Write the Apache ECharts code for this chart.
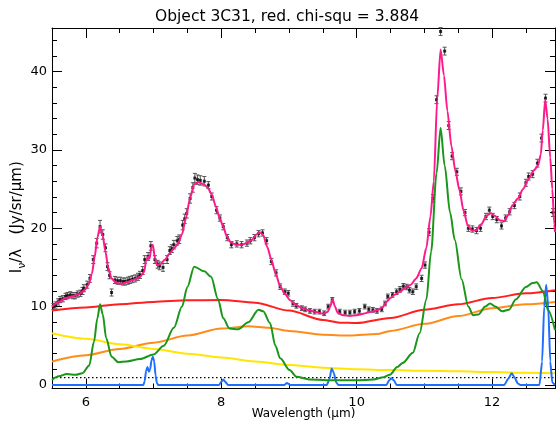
<!DOCTYPE html>
<html>
<head>
<meta charset="utf-8">
<script src="https://cdn.jsdelivr.net/npm/echarts@6/dist/echarts.min.js"></script>
<style>
  html, body { margin: 0; padding: 0; background: #fff; }
  #chart { width: 556px; height: 429px; }
</style>
</head>
<body>
<div id="chart"></div>
<script>
// Observed spectrum: wavelength (um), surface brightness I_nu/lambda, 1-sigma error
const obsWave = [5.52,5.55,5.59,5.62,5.66,5.70,5.73,5.77,5.81,5.84,5.88,5.92,5.95,5.97,6.02,6.06,6.11,6.16,6.21,6.25,6.29,6.32,6.35,6.38,6.43,6.47,6.51,6.55,6.58,6.62,6.65,6.69,6.73,6.77,6.80,6.84,6.87,6.92,6.96,7.02,7.06,7.09,7.14,7.20,7.24,7.27,7.30,7.35,7.38,7.43,7.46,7.49,7.54,7.58,7.61,7.65,7.69,7.75,
  7.81,7.86,7.93,7.98,8.03,8.09,8.15,8.23,8.30,8.38,8.43,8.49,8.55,8.61,8.67,8.74,8.81,8.87,8.94,8.99,9.06,9.11,9.19,9.24,9.31,9.38,9.45,9.52,9.58,9.64,9.75,9.83,9.90,9.97,10.04,10.12,10.18,10.24,10.30,10.37,10.42,10.46,10.53,10.59,10.64,10.69,10.74,10.78,10.83,10.88,10.96,11.01,11.07,11.13,11.18,11.24,11.30,11.36,11.41,11.48,11.54,11.60,11.65,11.71,11.77,11.83,11.91,11.96,12.01,12.07,12.14,12.20,12.26,12.33,12.41,12.50,12.54,12.60,12.67,12.73,12.79,12.90];
const obsFlux = [10.0,10.2,10.6,10.9,11.0,11.3,11.4,11.5,11.4,11.4,11.6,11.7,12.0,12.35,12.8,13.6,16.0,18.1,20.2,19.2,17.5,15.1,14.0,11.8,13.4,13.3,13.3,13.2,13.2,13.3,13.4,13.5,13.6,13.8,14.05,14.6,16.0,16.4,17.75,16.0,15.4,15.2,15.0,16.0,17.15,17.4,17.9,18.4,18.6,20.4,21.2,21.9,23.8,25.2,26.4,26.2,26.1,26.0,
  25.5,24.05,22.3,21.3,20.2,18.8,17.9,18.0,17.9,18.1,18.4,18.8,19.3,19.4,18.4,15.75,14.3,12.55,11.9,11.7,10.4,10.1,9.8,9.65,9.45,9.36,9.36,9.15,10.0,10.86,9.36,9.24,9.24,9.36,9.45,10.0,9.65,9.58,9.45,9.65,10.4,11.3,11.5,11.9,12.2,12.6,12.5,12.1,11.9,12.55,13.6,15.3,19.5,23.8,36.4,45.1,42.6,33.1,29.2,27.2,24.7,22.0,20.0,19.9,19.7,20.0,21.5,22.3,21.5,21.1,20.3,21.3,22.1,22.9,24.05,25.8,26.6,26.9,28.3,31.5,36.6,22.0];
const obsErr = [0.4,0.4,0.4,0.4,0.4,0.4,0.4,0.4,0.4,0.4,0.4,0.4,0.45,0.45,0.45,0.5,0.5,0.6,0.8,0.6,0.5,0.5,0.45,0.45,0.45,0.45,0.45,0.45,0.45,0.45,0.45,0.45,0.45,0.45,0.45,0.5,0.5,0.5,0.55,0.5,0.5,0.5,0.5,0.5,0.5,0.5,0.55,0.55,0.55,0.6,0.6,0.6,0.6,0.6,0.6,0.6,0.6,0.6,
  0.45,0.45,0.45,0.4,0.4,0.4,0.4,0.4,0.4,0.4,0.4,0.4,0.4,0.4,0.4,0.4,0.4,0.35,0.35,0.35,0.35,0.3,0.3,0.3,0.3,0.3,0.3,0.3,0.3,0.3,0.3,0.3,0.3,0.3,0.3,0.3,0.3,0.3,0.3,0.3,0.3,0.3,0.3,0.35,0.35,0.35,0.35,0.35,0.35,0.35,0.4,0.4,0.45,0.5,0.5,0.5,0.5,0.5,0.45,0.45,0.45,0.4,0.4,0.4,0.4,0.4,0.4,0.4,0.4,0.4,0.4,0.4,0.4,0.4,0.45,0.45,0.45,0.45,0.5,0.5,0.5,0.5];

// Total fitted model
const totalModel = [[5.50,10.0],[5.60,10.6],[5.70,11.1],[5.80,11.3],[5.90,11.6],[5.98,12.1],[6.04,12.8],[6.09,14.2],[6.13,16.3],[6.17,18.8],[6.21,20.2],[6.25,19.0],[6.29,17.0],[6.33,15.0],[6.38,13.6],[6.44,13.1],[6.52,12.9],[6.60,13.1],[6.70,13.4],[6.80,13.8],[6.86,14.4],[6.89,15.8],[6.92,16.4],[6.94,16.1],[6.97,17.6],[6.99,17.9],[7.02,16.2],[7.05,15.3],[7.10,15.4],[7.17,16.0],[7.24,16.8],[7.30,17.4],[7.36,18.0],[7.42,19.2],[7.48,21.4],[7.54,23.9],[7.60,25.6],[7.66,25.9],[7.74,25.6],[7.80,25.2],[7.86,24.3],[7.92,22.8],[7.98,21.2],[8.03,20.2],[8.08,19.0],[8.14,18.2],[8.22,17.9],[8.30,17.9],[8.38,18.1],[8.45,18.5],[8.52,19.2],[8.57,19.5],[8.62,19.1],[8.68,17.6],[8.74,16.0],[8.80,14.3],[8.87,12.6],[8.94,11.6],[9.02,10.8],[9.10,10.2],[9.20,9.8],[9.30,9.5],[9.40,9.3],[9.50,9.1],[9.57,9.3],[9.61,10.0],[9.645,10.9],[9.68,10.0],[9.72,9.2],[9.80,8.9],[9.90,8.8],[10.00,8.9],[10.10,9.1],[10.20,9.3],[10.30,9.5],[10.38,9.9],[10.44,10.6],[10.50,11.1],[10.56,11.5],[10.64,11.9],[10.72,12.4],[10.80,12.8],[10.88,13.6],[10.96,14.9],[11.03,17.5],[11.09,21.5],[11.14,26.0],[11.19,36.5],[11.24,42.8],[11.29,39.5],[11.34,35.0],[11.40,30.5],[11.46,27.2],[11.52,24.8],[11.58,22.2],[11.64,20.4],[11.70,19.7],[11.76,19.7],[11.84,20.5],[11.92,21.6],[11.98,21.9],[12.04,21.6],[12.12,21.0],[12.18,20.9],[12.24,21.7],[12.30,22.9],[12.38,23.8],[12.46,25.0],[12.54,26.3],[12.62,27.4],[12.68,28.0],[12.72,29.4],[12.75,32.5],[12.785,36.4],[12.82,34.0],[12.86,29.0],[12.89,25.0],[12.92,20.5],[12.93,19.5]];

// Continuum components
const warmDust = [[5.5,9.5],[6.0,9.9],[6.5,10.3],[7.0,10.6],[7.5,10.8],[8.0,10.85],[8.5,10.5],[9.0,9.5],[9.5,8.3],[9.75,7.95],[10.0,7.9],[10.5,8.55],[11.0,9.6],[11.5,10.3],[12.0,11.1],[12.5,11.7],[12.93,12.1]];
const coolDust = [[5.5,3.0],[6.0,3.8],[6.5,4.6],[7.0,5.4],[7.5,6.3],[8.0,7.2],[8.4,7.5],[8.7,7.3],[9.0,6.9],[9.5,6.4],[9.9,6.3],[10.3,6.5],[10.5,6.9],[11.0,7.8],[11.5,8.8],[12.0,9.8],[12.5,10.3],[12.93,10.6]];
const starlight = [[5.5,6.6],[6.0,5.9],[6.5,5.2],[7.0,4.6],[7.5,4.0],[8.0,3.5],[8.5,3.0],[9.0,2.55],[9.5,2.2],[10.0,2.0],[10.5,1.9],[11.0,1.8],[11.5,1.75],[12.0,1.65],[12.5,1.55],[12.93,1.5]];

// Dust features (PAH bands)
const pahBands = [[5.50,0.65],[5.60,1.1],[5.72,1.4],[5.85,1.3],[5.95,1.5],[6.05,2.5],[6.12,5.5],[6.17,8.5],[6.21,10.3],[6.25,9.0],[6.30,6.0],[6.38,3.6],[6.48,2.9],[6.60,3.0],[6.80,3.3],[7.00,3.9],[7.15,5.0],[7.30,7.3],[7.42,10.0],[7.50,12.5],[7.60,15.1],[7.75,14.5],[7.85,13.8],[7.95,11.0],[8.03,8.5],[8.12,7.2],[8.25,7.1],[8.40,8.0],[8.55,9.6],[8.62,9.4],[8.72,7.9],[8.80,5.0],[8.87,3.4],[9.01,1.9],[9.11,1.06],[9.30,0.7],[9.70,0.6],[10.0,0.6],[10.25,0.7],[10.40,1.0],[10.49,1.3],[10.60,2.3],[10.68,2.8],[10.83,4.1],[10.93,6.6],[11.03,10.9],[11.10,17.0],[11.18,27.0],[11.24,32.8],[11.30,28.0],[11.38,22.0],[11.45,18.5],[11.55,13.5],[11.65,10.0],[11.72,8.9],[11.80,9.0],[11.90,10.0],[11.97,10.4],[12.05,10.0],[12.15,9.4],[12.25,9.6],[12.35,10.9],[12.50,12.5],[12.60,13.0],[12.66,13.1],[12.75,12.0],[12.83,9.5],[12.93,7.0]];

// Atomic and H2 emission lines
const emissionLines = [[5.5,0],[6.85,0],[6.87,0.5],[6.89,1.8],[6.91,2.3],[6.93,1.7],[6.95,2.0],[6.97,3.2],[6.99,3.6],[7.01,3.0],[7.03,1.2],[7.05,0.2],[7.07,0],[7.97,0],[8.00,0.4],[8.03,0.7],[8.06,0.4],[8.10,0],[8.93,0],[8.97,0.25],[9.02,0],[9.56,0],[9.60,0.8],[9.63,2.1],[9.66,1.6],[9.70,0.3],[9.73,0],[10.44,0],[10.48,0.6],[10.51,0.85],[10.55,0.6],[10.59,0],[12.18,0],[12.24,0.8],[12.29,1.5],[12.33,1.0],[12.38,0.2],[12.42,0],[12.70,0],[12.74,3.0],[12.77,10.0],[12.80,12.8],[12.83,10.0],[12.86,3.0],[12.89,0.3],[12.93,0]];

// Reference level
const refLevel = [[5.5,0.95],[12.93,0.95]];

const X_MIN = 5.5, X_MAX = 12.93, Y_MIN = -0.45, Y_MAX = 45.55;
const FONT = 'DejaVu Sans';

const obsPoints = obsWave.map((w, i) => [w, obsFlux[i], obsErr[i]]);

const chart = echarts.init(document.getElementById('chart'), null, { renderer: 'canvas' });

const tickCommon = {
  axisLine: { show: true, onZero: false, lineStyle: { color: '#000', width: 1 } },
  axisTick: { show: true, inside: true, length: 10, lineStyle: { color: '#000', width: 1 } },
  minorTick: { show: true, length: 5, lineStyle: { color: '#000', width: 1 } },
  splitLine: { show: false },
  minorSplitLine: { show: false }
};

function lineSeries(name, data, color, extra) {
  return Object.assign({
    name, type: 'line', data,
    xAxisIndex: 0, yAxisIndex: 0,
    showSymbol: false, symbol: 'none',
    smooth: 0.3, smoothMonotone: 'x',
    lineStyle: { color, width: 2 },
    silent: true, animation: false
  }, extra || {});
}

chart.setOption({
  animation: false,
  backgroundColor: '#fff',
  title: {
    text: 'Object 3C31, red. chi-squ = 3.884',
    left: 150, top: 4,
    textStyle: { fontFamily: FONT, fontSize: 15.5, fontWeight: 'normal', color: '#000' }
  },
  grid: { left: 52, right: 1, top: 28, bottom: 40.5, containLabel: false, outerBoundsMode: 'none' },
  xAxis: [
    Object.assign({
      type: 'value', min: X_MIN, max: X_MAX, splitNumber: 4, position: 'bottom',
      name: 'Wavelength (\u03bcm)', nameLocation: 'middle', nameGap: 19, nameMoveOverlap: false,
      nameTextStyle: { fontFamily: FONT, fontSize: 12, color: '#000' },
      axisLabel: { fontFamily: FONT, fontSize: 13, color: '#000', margin: 8, showMinLabel: false, showMaxLabel: false }
    }, tickCommon, { minorTick: Object.assign({}, tickCommon.minorTick, { splitNumber: 4 }) }),
    Object.assign({
      type: 'value', min: X_MIN, max: X_MAX, splitNumber: 4, position: 'top',
      axisLabel: { show: false }
    }, tickCommon, { minorTick: Object.assign({}, tickCommon.minorTick, { splitNumber: 4 }) })
  ],
  yAxis: [
    Object.assign({
      type: 'value', min: Y_MIN, max: Y_MAX, splitNumber: 5, position: 'left',
      name: 'I{s|\u03bd}/\u03bb   (Jy/sr/\u03bcm)', nameLocation: 'middle', nameGap: 24, nameRotate: 90, nameMoveOverlap: false,
      nameTextStyle: {
        fontFamily: FONT, fontSize: 15, color: '#000', lineHeight: 22, padding: [0, 18, 0, 0],
        rich: { s: { fontFamily: FONT, fontSize: 11, color: '#000', verticalAlign: 'bottom', lineHeight: 22 } }
      },
      axisLabel: { fontFamily: FONT, fontSize: 13, color: '#000', margin: 5, showMinLabel: false, showMaxLabel: false }
    }, tickCommon, { minorTick: Object.assign({}, tickCommon.minorTick, { splitNumber: 5 }) }),
    Object.assign({
      type: 'value', min: Y_MIN, max: Y_MAX, splitNumber: 5, position: 'right',
      axisLabel: { show: false }
    }, tickCommon, { minorTick: Object.assign({}, tickCommon.minorTick, { splitNumber: 5 }) })
  ],
  series: [
    lineSeries('warm dust', warmDust, '#ff1f1f'),
    lineSeries('cool dust', coolDust, '#ff8c1a'),
    lineSeries('stars', starlight, '#ffe600'),
    lineSeries('level', refLevel, '#000', { smooth: false, lineStyle: { color: '#000', width: 1.3, type: [1.5, 2.5] } }),
    lineSeries('lines', emissionLines, '#1f6fff', { smooth: 0.2 }),
    lineSeries('pah', pahBands, '#1a961a'),
    lineSeries('model', totalModel, '#ff1a8c', { smooth: 0.25 }),
    {
      name: 'errors', type: 'custom', xAxisIndex: 0, yAxisIndex: 0, silent: true, animation: false,
      data: obsPoints,
      renderItem: function (params, api) {
        const x = api.value(0), y = api.value(1), e = api.value(2);
        const top = api.coord([x, y + e]);
        const bot = api.coord([x, y - e]);
        const w = 2;
        const s = { stroke: '#555', lineWidth: 1 };
        return {
          type: 'group',
          children: [
            { type: 'line', shape: { x1: top[0], y1: top[1], x2: bot[0], y2: bot[1] }, style: s },
            { type: 'line', shape: { x1: top[0] - w, y1: top[1], x2: top[0] + w, y2: top[1] }, style: s },
            { type: 'line', shape: { x1: bot[0] - w, y1: bot[1], x2: bot[0] + w, y2: bot[1] }, style: s }
          ]
        };
      }
    },
    {
      name: 'observed', type: 'scatter', xAxisIndex: 0, yAxisIndex: 0, silent: true, animation: false,
      data: obsPoints.map(p => [p[0], p[1]]),
      symbol: 'rect', symbolSize: 3,
      itemStyle: { color: '#000' }
    }
  ]
});
</script>
</body>
</html>
